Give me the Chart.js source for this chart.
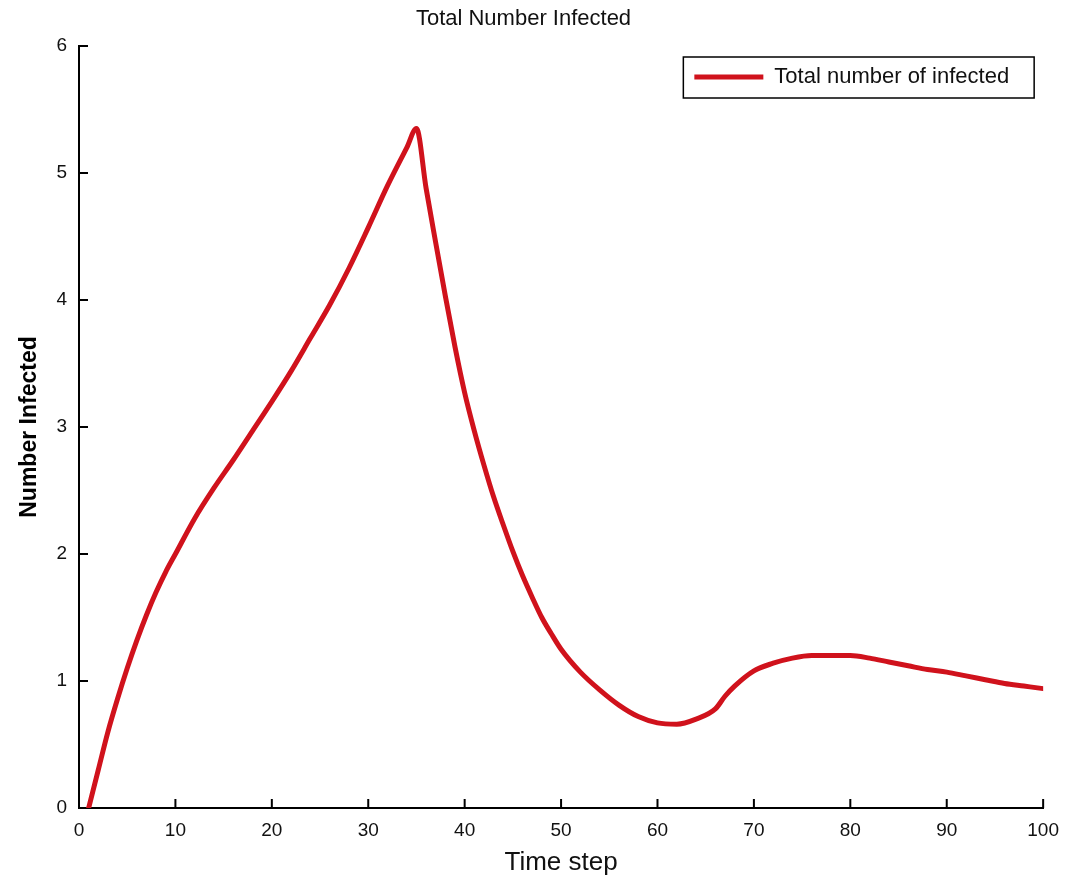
<!DOCTYPE html>
<html>
<head>
<meta charset="utf-8">
<script src="https://cdn.jsdelivr.net/npm/chart.js@4.4.1/dist/chart.umd.min.js"></script>
<style>
    body { margin: 0; background: #fff; }
    #wrap { width: 1070px; height: 883px; }
</style>
</head>
<body>
<div id="wrap"><canvas id="infected-chart" width="1070" height="883"></canvas></div>
<script>
// values
const timeSteps = [1, 2, 3, 4, 5, 6, 7, 8, 9, 10, 12, 14, 16, 18, 20, 22, 24, 26, 28, 30, 32, 34, 35,
    36, 37, 38, 39, 40, 41, 42, 43, 44, 45, 46, 47, 48, 49, 50, 52, 54, 56, 58, 60, 62, 64, 66, 67,
    68, 70, 72, 74, 76, 78, 80, 82, 84, 86, 88, 90, 92, 94, 96, 98, 100];
const infected = [0, 0.3, 0.6, 0.86, 1.1, 1.32, 1.52, 1.7, 1.86, 2.0, 2.28, 2.52, 2.74, 2.97, 3.2, 3.44, 3.7, 3.96, 4.25, 4.57, 4.9, 5.2, 5.35,
    4.88, 4.45, 4.03, 3.63, 3.27, 2.97, 2.7, 2.45, 2.23, 2.02, 1.83, 1.66, 1.5, 1.37, 1.25, 1.07, 0.93, 0.81, 0.72, 0.67, 0.66, 0.7, 0.78, 0.88,
    0.96, 1.08, 1.14, 1.18, 1.2, 1.2, 1.2, 1.18, 1.15, 1.12, 1.09, 1.07, 1.04, 1.01, 0.98, 0.96, 0.94];
const xTickRange = [0, 100, 10];
const yTickRange = [0, 6, 1];

const lineRed = '#d0121c';

// matlab style: ticks pointing inwards, boxed legend in the top right corner
const matlabAxes = {
    id: 'matlabAxes',
    afterLayout(chart) {
        const legend = chart.legend;
        const item = legend.legendHitBoxes[0];
        if (!item) return;
        const pad = legend.options.labels.padding;
        legend.left = chart.chartArea.right - 34 - item.width - pad;
        legend.right = legend.left + legend.width;
        legend.top = chart.chartArea.top;
        legend.bottom = legend.top + legend.height;
    },
    beforeDatasetsDraw(chart) {
        const { ctx, chartArea, scales: { x, y } } = chart;
        ctx.save();
        ctx.strokeStyle = '#000';
        ctx.lineWidth = 2;
        ctx.beginPath();
        x.ticks.forEach(t => {
            const px = x.getPixelForValue(t.value);
            ctx.moveTo(px, chartArea.bottom);
            ctx.lineTo(px, chartArea.bottom - 9);
        });
        y.ticks.forEach(t => {
            const py = y.getPixelForValue(t.value);
            ctx.moveTo(chartArea.left, py);
            ctx.lineTo(chartArea.left + 9, py);
        });
        ctx.stroke();
        ctx.restore();
    },
    afterDraw(chart) {
        const box = chart.legend.legendHitBoxes[0];
        if (!box) return;
        const ctx = chart.ctx;
        ctx.save();
        ctx.strokeStyle = '#000';
        ctx.lineWidth = 1.5;
        ctx.strokeRect(box.left - 11, box.top - 9, box.width + 36, box.height + 19);
        ctx.restore();
    }
};

const ctx = document.getElementById('infected-chart').getContext('2d');
new Chart(ctx, {
    type: 'line',
    data: {
        datasets: [{
            label: 'Total number of infected',
            data: timeSteps.map((t, i) => ({ x: t, y: infected[i] })),
            borderColor: lineRed,
            backgroundColor: lineRed,
            borderWidth: 5,
            pointRadius: 0,
            cubicInterpolationMode: 'monotone',
            borderCapStyle: 'round',
            borderJoinStyle: 'round'
        }]
    },
    options: {
        responsive: false,
        animation: false,
        layout: { padding: { left: 0, right: 23, top: 0, bottom: 0 } },
        scales: {
            x: {
                type: 'linear',
                min: xTickRange[0],
                max: xTickRange[1],
                grid: { display: false, drawTicks: false },
                border: { display: true, color: '#000', width: 2 },
                ticks: {
                    stepSize: xTickRange[2],
                    padding: 11,
                    color: '#111',
                    maxRotation: 0,
                    font: { family: 'Liberation Sans', size: 19 }
                },
                title: {
                    display: true,
                    text: 'Time step',
                    color: '#111',
                    padding: { top: 0, bottom: 5 },
                    font: { family: 'Liberation Sans', size: 26 }
                },
                afterFit(scale) { scale.height = 75; }
            },
            y: {
                min: yTickRange[0],
                max: yTickRange[1],
                grid: { display: false, drawTicks: false },
                border: { display: true, color: '#000', width: 2 },
                ticks: {
                    stepSize: yTickRange[2],
                    padding: 12,
                    color: '#111',
                    font: { family: 'Liberation Sans', size: 19 }
                },
                title: {
                    display: true,
                    text: 'Number Infected',
                    color: '#000',
                    padding: { top: 16, bottom: 0 },
                    font: { family: 'Liberation Sans', size: 23, weight: 'bold' }
                },
                afterFit(scale) { scale.width = 79; }
            }
        },
        plugins: {
            title: {
                display: true,
                text: 'Total Number Infected',
                color: '#111',
                padding: { top: 6, bottom: 13.6 },
                font: { family: 'Liberation Sans', size: 22, weight: 'normal' }
            },
            legend: {
                position: 'chartArea',
                align: 'start',
                labels: {
                    boxWidth: 69,
                    boxHeight: 5,
                    padding: 20,
                    color: '#111',
                    font: { family: 'Liberation Sans', size: 22 },
                    generateLabels(chart) {
                        const items = Chart.defaults.plugins.legend.labels.generateLabels(chart);
                        items.forEach(item => { item.lineWidth = 0; });
                        return items;
                    }
                }
            },
            tooltip: { enabled: false }
        }
    },
    plugins: [matlabAxes]
});
</script>
</body>
</html>
